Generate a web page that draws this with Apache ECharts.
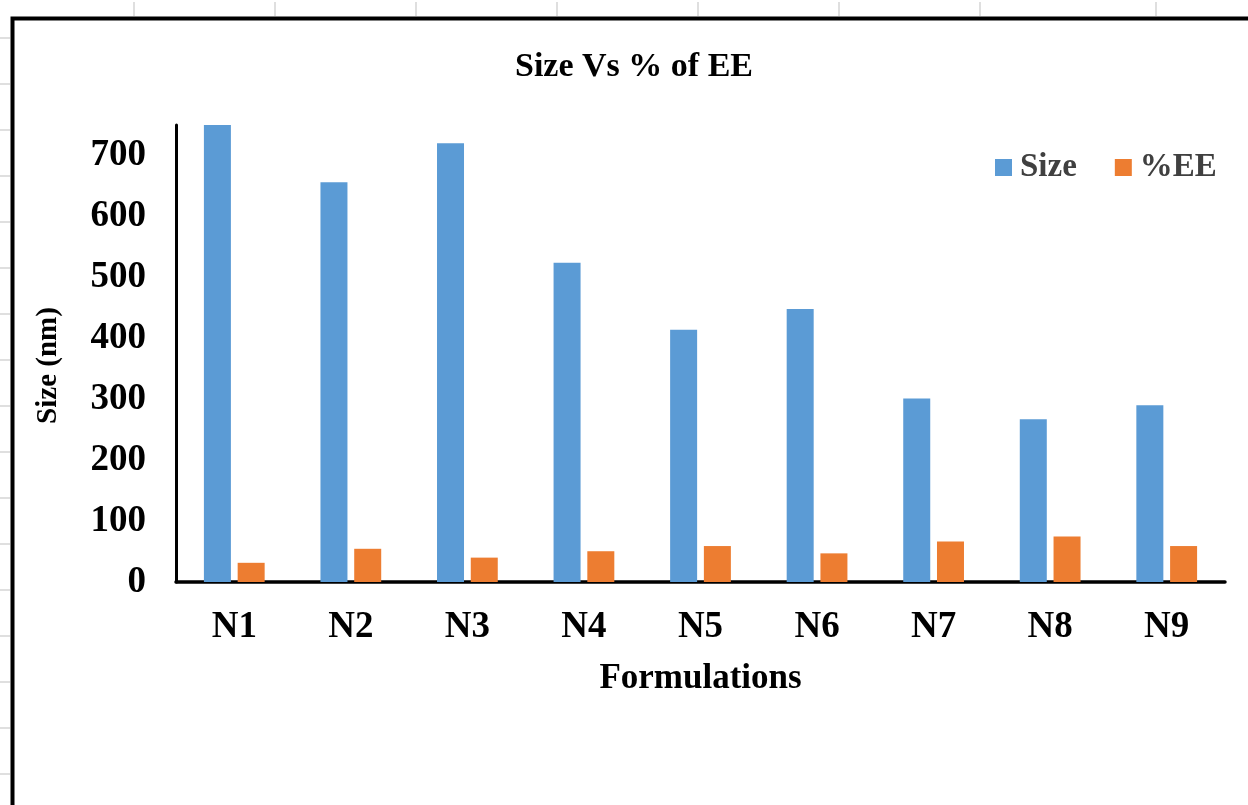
<!DOCTYPE html>
<html>
<head>
<meta charset="utf-8">
<script src="https://cdn.jsdelivr.net/npm/echarts@6/dist/echarts.min.js"></script>
<style>
html,body{margin:0;padding:0;background:#fff;}
#chart{width:1248px;height:805px;}
</style>
</head>
<body>
<div id="chart"></div>
<script>
var categories = ['N1','N2','N3','N4','N5','N6','N7','N8','N9'];
var sizeValues = [750, 656, 720, 524, 414, 448, 301, 267, 290];
var eeValues = [31.5, 54.5, 40, 50.5, 59, 47, 66.5, 74.5, 59];
var yTicks = {min: 0, max: 750, interval: 100};

var FONT = "'Liberation Serif', 'Times New Roman', serif";
var chart = echarts.init(document.getElementById('chart'), null, {renderer: 'canvas'});

// faint spreadsheet cell-grid stubs outside the chart frame
var stubs = [];
[134, 275, 416, 557, 698, 839, 980, 1156].forEach(function (x) {
  stubs.push({type: 'line', shape: {x1: x, y1: 2, x2: x, y2: 16}, style: {stroke: '#d4d4d4', lineWidth: 1.5}, silent: true});
});
for (var y = 38; y < 805; y += 46) {
  stubs.push({type: 'line', shape: {x1: 0, y1: y, x2: 10, y2: y}, style: {stroke: '#d4d4d4', lineWidth: 1.5}, silent: true});
}
stubs.push({type: 'rect', shape: {x: 12.5, y: 18.5, width: 1300, height: 900}, style: {fill: null, stroke: '#000', lineWidth: 4}, silent: true, z: 10});

chart.setOption({
  animation: false,
  backgroundColor: '#fff',
  graphic: stubs,
  title: {
    text: 'Size Vs % of EE',
    left: 510,
    top: 45,
    textStyle: {fontFamily: FONT, fontWeight: 'bold', fontSize: 34, color: '#000'}
  },
  legend: {
    left: 990,
    top: 146,
    itemWidth: 17,
    itemHeight: 17,
    itemGap: 38,
    icon: 'rect',
    textStyle: {fontFamily: FONT, fontWeight: 'bold', fontSize: 33, color: '#404040', padding: [0, 0, 0, 3]},
    data: ['Size', '%EE']
  },
  grid: {left: 176, right: 23, top: 125, bottom: 223, containLabel: false},
  xAxis: {
    type: 'category',
    data: categories,
    axisLine: {show: true, lineStyle: {color: '#000', width: 3.5}},
    axisTick: {show: false},
    axisLabel: {fontFamily: FONT, fontWeight: 'bold', fontSize: 37, color: '#000', margin: 27},
    name: 'Formulations',
    nameLocation: 'middle',
    nameGap: 79,
    nameTextStyle: {fontFamily: FONT, fontWeight: 'bold', fontSize: 35, color: '#000'}
  },
  yAxis: {
    type: 'value',
    min: yTicks.min,
    max: yTicks.max,
    interval: yTicks.interval,
    axisLine: {show: true, lineStyle: {color: '#000', width: 3}},
    axisTick: {show: false},
    splitLine: {show: false},
    axisLabel: {fontFamily: FONT, fontWeight: 'bold', fontSize: 37, color: '#000', margin: 30, showMaxLabel: false},
    name: 'Size (nm)',
    nameLocation: 'middle',
    nameGap: 113,
    nameTextStyle: {fontFamily: FONT, fontWeight: 'bold', fontSize: 29, color: '#000', padding: [0, 24, 0, 0]}
  },
  series: [
    {name: 'Size', type: 'bar', data: sizeValues, barWidth: 27, barGap: '25%', itemStyle: {color: '#5B9BD5'}},
    {name: '%EE', type: 'bar', data: eeValues, barWidth: 27, barGap: '25%', itemStyle: {color: '#ED7D31'}}
  ]
});
</script>
</body>
</html>
